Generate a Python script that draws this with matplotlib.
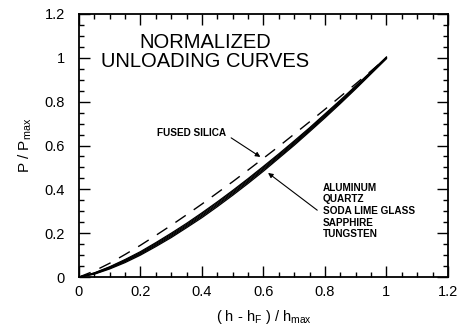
import matplotlib.pyplot as plt
from matplotlib.ticker import MultipleLocator, FixedLocator

plt.rcParams['font.family'] = ['Liberation Sans', 'DejaVu Sans']
plt.rcParams['mathtext.fontset'] = 'custom'
plt.rcParams['mathtext.rm'] = 'Liberation Sans'

# ── Data ─────────────────────────────────────────────────────────────────────
x_norm = [0, 0.05, 0.1, 0.15, 0.2, 0.25, 0.3, 0.35, 0.4, 0.45, 0.5,
          0.55, 0.6, 0.65, 0.7, 0.75, 0.8, 0.85, 0.9, 0.95, 1.0]

fused_silica = [0, 0.028, 0.063, 0.103, 0.145, 0.190, 0.236, 0.284, 0.333, 0.384, 0.435,
                0.488, 0.542, 0.596, 0.652, 0.708, 0.765, 0.823, 0.881, 0.940, 1.0]
aluminum = [0, 0.019, 0.047, 0.080, 0.116, 0.157, 0.200, 0.245, 0.293, 0.343, 0.395,
            0.449, 0.505, 0.562, 0.621, 0.681, 0.744, 0.807, 0.872, 0.937, 1.004]
quartz = [0, 0.018, 0.045, 0.077, 0.112, 0.153, 0.195, 0.240, 0.288, 0.338, 0.390,
          0.444, 0.500, 0.557, 0.616, 0.677, 0.740, 0.803, 0.869, 0.935, 1.002]
soda_lime_glass = [0, 0.016, 0.042, 0.073, 0.108, 0.148, 0.190, 0.235, 0.282, 0.332, 0.384,
                   0.438, 0.494, 0.552, 0.611, 0.672, 0.735, 0.799, 0.865, 0.932, 1.0]
sapphire = [0, 0.015, 0.040, 0.070, 0.104, 0.144, 0.185, 0.230, 0.277, 0.327, 0.379,
            0.433, 0.489, 0.547, 0.606, 0.668, 0.731, 0.795, 0.862, 0.930, 0.998]
tungsten = [0, 0.013, 0.037, 0.066, 0.100, 0.139, 0.180, 0.225, 0.271, 0.321, 0.373,
            0.427, 0.483, 0.542, 0.601, 0.663, 0.726, 0.791, 0.858, 0.927, 0.996]

solid_series = [aluminum, quartz, soda_lime_glass, sapphire, tungsten]
solid_names = ['ALUMINUM', 'QUARTZ', 'SODA LIME GLASS', 'SAPPHIRE', 'TUNGSTEN']

tick_vals = [0, 0.2, 0.4, 0.6, 0.8, 1.0, 1.2]
tick_labels = ['0', '0.2', '0.4', '0.6', '0.8', '1', '1.2']

# ── Figure ───────────────────────────────────────────────────────────────────
fig = plt.figure(figsize=(4.7, 3.33), dpi=100)
ax = fig.add_axes([0.168, 0.168, 0.785, 0.79])

for ys in solid_series:
    ax.plot(x_norm, ys, color='black', lw=0.9)
ax.plot(x_norm, fused_silica, color='black', lw=1.0, dashes=(9, 7))

ax.set_xlim(0, 1.2)
ax.set_ylim(0, 1.2)
ax.xaxis.set_major_locator(FixedLocator(tick_vals))
ax.yaxis.set_major_locator(FixedLocator(tick_vals))
ax.set_xticklabels(tick_labels)
ax.set_yticklabels(tick_labels)
ax.xaxis.set_minor_locator(MultipleLocator(0.05))
ax.yaxis.set_minor_locator(MultipleLocator(0.05))
ax.tick_params(which='both', direction='in', top=True, right=True,
               labelsize=10.5, color='black', width=1.0)
ax.tick_params(axis='x', pad=6)
ax.tick_params(axis='y', pad=10)
ax.tick_params(which='major', length=8)
ax.tick_params(which='minor', length=3.5)
for sp in ax.spines.values():
    sp.set_linewidth(1.3)

ax.set_xlabel(r'( h - h$_\mathregular{F}$ ) / h$_\mathregular{max}$', fontsize=10.5, labelpad=6)
ax.set_ylabel(r'P / P$_\mathregular{max}$', fontsize=11, labelpad=8)

ax.text(0.41, 1.025, 'NORMALIZED\nUNLOADING CURVES', ha='center', va='center',
        fontsize=14.5, linespacing=1.0)

arrow = dict(arrowstyle='-|>', color='black', lw=0.8, mutation_scale=7,
             shrinkA=0, shrinkB=0)

ax.text(0.255, 0.657, 'FUSED SILICA', ha='left', va='center',
        fontsize=7.2, fontweight='bold')
ax.annotate('', xy=(0.59, 0.548), xytext=(0.495, 0.635), arrowprops=arrow)

ax.text(0.793, 0.43, '\n'.join(solid_names), ha='left', va='top',
        fontsize=7.2, fontweight='bold', linespacing=1.2)
ax.annotate('', xy=(0.615, 0.475), xytext=(0.775, 0.305), arrowprops=arrow)

fig.savefig('out.png', dpi=100, facecolor='white')
